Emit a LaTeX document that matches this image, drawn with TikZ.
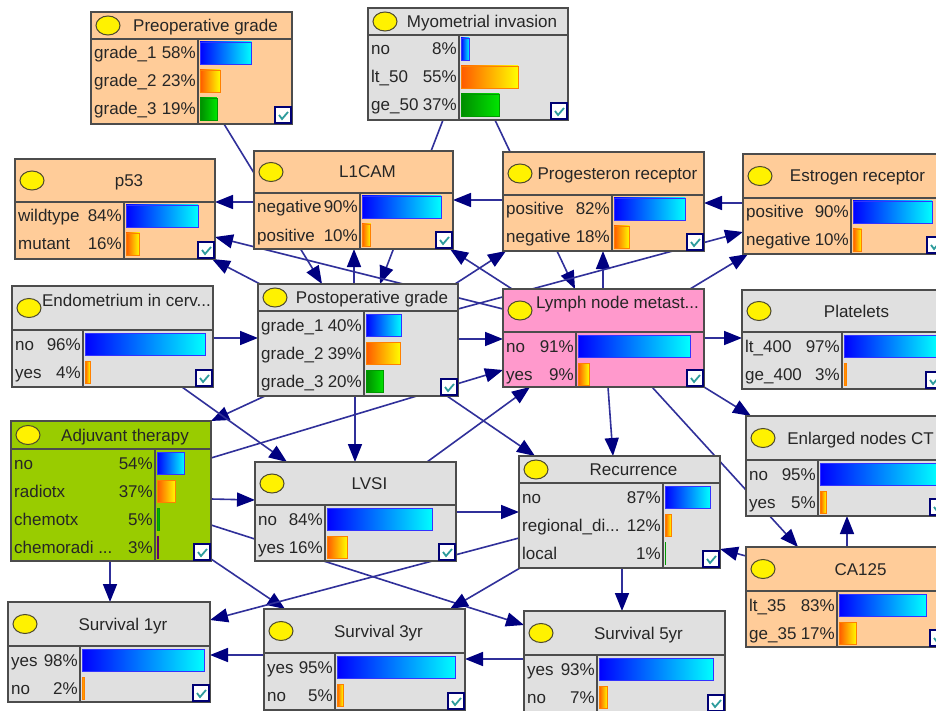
\documentclass[tikz,border=0pt]{standalone}
\usepackage{fontspec}
\setmainfont{Liberation Sans}
\usepackage{tikz}
\usepackage{xcolor}
\usetikzlibrary{calc,arrows.meta}
\pgfdeclarelayer{background}
\pgfsetlayers{background,main}

\definecolor{peach}{HTML}{FFCC99}
\definecolor{greybox}{HTML}{E0E0E0}
\definecolor{pinkbox}{HTML}{FF99CC}
\definecolor{adjgreen}{HTML}{99CC00}
\definecolor{arcline}{HTML}{30309A}
\definecolor{archead}{HTML}{000080}
\definecolor{tickc}{HTML}{2E9C9C}

% one network node: name, left, top, right, bottom, title line, column line, fill, title
\newcommand{\bnbox}[9]{%
  \def\bnN{#1}\def\bnL{#2}\def\bnR{#4}\def\bnT{#6}\def\bnC{#7}%
  \node[frame, fill=#8, minimum width={#4-#2}, minimum height={#5-#3}] (#1) at ({(#2+#4)/2},{(#3+#5)/2}) {};
  \draw[frame] (#2,#6) -- (#4,#6) (#7,#6) -- (#7,#5);
  \draw[bulb] (#2+17,{(#3+#6)/2}) ellipse (12 and 9.5);
  \node[anchor=base, inner sep=0] (#1-title) at ({(#2+#4+28)/2},{(#3+#6)/2+6}) {#9};
  \draw[tickbox] (#4-17,#5-17) rectangle (#4-1,#5-1);
  \draw[tick] (#4-13,#5-9) -- (#4-10,#5-5) -- (#4-4,#5-12);
}
% one state row of the last box: row, label, percent, bar style
\newcommand{\bnrow}[4]{%
  \node[anchor=base west, inner sep=0] (\bnN-#1) at (\bnL+3,{\bnT+20+28*(#1-1)}) {#2};
  \node[anchor=base east, inner sep=0] (\bnN-#1p) at (\bnC-2,{\bnT+20+28*(#1-1)}) {#3\%};
  \shadedraw[#4] (\bnC+2,{\bnT+3+28*(#1-1)}) rectangle ++({(\bnR-\bnC-5)*#3/100},22);
}

\begin{document}
\begin{tikzpicture}[x=1pt, y=-1pt]
	\tikzstyle{every node} = [font=\fontsize{17}{20}\selectfont, text=black!85]
	\tikzstyle{frame} = [draw=black!70, line width=1.3pt, inner sep=0, outer sep=0]
	\tikzstyle{bulb} = [fill=yellow, draw=black!60!olive, line width=1pt]
	\tikzstyle{tickbox} = [draw=blue!45!black, line width=1.1pt, fill=white]
	\tikzstyle{tick} = [draw=tickc, line width=1.8pt]
	\tikzstyle{bblue} = [left color=blue, right color=cyan, draw=blue!80!white, line width=0.8pt]
	\tikzstyle{borange} = [left color=orange!70!red, right color=yellow, draw=orange, line width=0.8pt]
	\tikzstyle{bgreen} = [left color=green!55!black, right color=green!90!black, draw=green!60!black, line width=0.8pt]
	\tikzstyle{bpurple} = [left color=violet!80!black, right color=violet, draw=violet!80!black, line width=0.8pt]
	\tikzstyle{arc} = [draw=arcline, line width=1.6pt, -{Triangle[length=18pt, width=14pt, color=archead]}]
	\useasboundingbox (0,0) rectangle (936,711);
	\clip (0,0) rectangle (936,711);

	\bnbox{preop}{91}{12}{292}{124}{39}{198}{peach}{Preoperative grade}
	\bnrow{1}{grade\_1}{58}{bblue}
	\bnrow{2}{grade\_2}{23}{borange}
	\bnrow{3}{grade\_3}{19}{bgreen}
	\bnbox{myo}{368}{8}{568}{120}{35}{459}{greybox}{Myometrial invasion}
	\bnrow{1}{no}{8}{bblue}
	\bnrow{2}{lt\_50}{55}{borange}
	\bnrow{3}{ge\_50}{37}{bgreen}
	\bnbox{p53}{15}{159}{215}{259}{202}{124}{peach}{p53}
	\bnrow{1}{wildtype}{84}{bblue}
	\bnrow{2}{mutant}{16}{borange}
	\bnbox{l1cam}{254}{151}{453}{249}{193}{360}{peach}{L1CAM}
	\bnrow{1}{negative}{90}{bblue}
	\bnrow{2}{positive}{10}{borange}
	\bnbox{prog}{503}{152}{704}{251}{195}{612}{peach}{Progesteron receptor}
	\bnrow{1}{positive}{82}{bblue}
	\bnrow{2}{negative}{18}{borange}
	\bnbox{estr}{743}{154}{944}{254}{198}{851}{peach}{Estrogen receptor}
	\bnrow{1}{positive}{90}{bblue}
	\bnrow{2}{negative}{10}{borange}
	\bnbox{endo}{12}{286}{213}{387}{330}{83}{greybox}{\raisebox{8pt}[0pt][0pt]{Endometrium in cerv...}}
	\bnrow{1}{no}{96}{bblue}
	\bnrow{2}{yes}{4}{borange}
	\bnbox{postop}{258}{284}{458}{396}{311}{364}{greybox}{Postoperative grade}
	\bnrow{1}{grade\_1}{40}{bblue}
	\bnrow{2}{grade\_2}{39}{borange}
	\bnrow{3}{grade\_3}{20}{bgreen}
	\bnbox{lymph}{503}{289}{704}{387}{332}{576}{pinkbox}{\raisebox{8pt}[0pt][0pt]{Lymph node metast...}}
	\bnrow{1}{no}{91}{bblue}
	\bnrow{2}{yes}{9}{borange}
	\bnbox{plat}{742}{290}{943}{389}{332}{842}{greybox}{Platelets}
	\bnrow{1}{lt\_400}{97}{bblue}
	\bnrow{2}{ge\_400}{3}{borange}
	\bnbox{adj}{11}{421}{211}{561}{449}{155}{adjgreen}{Adjuvant therapy}
	\bnrow{1}{no}{54}{bblue}
	\bnrow{2}{radiotx}{37}{borange}
	\bnrow{3}{chemotx}{5}{bgreen}
	\bnrow{4}{chemoradi ...}{3}{bpurple}
	\bnbox{lvsi}{255}{462}{456}{561}{505}{325}{greybox}{LVSI}
	\bnrow{1}{no}{84}{bblue}
	\bnrow{2}{yes}{16}{borange}
	\bnbox{recur}{519}{456}{720}{568}{483}{663}{greybox}{Recurrence}
	\bnrow{1}{no}{87}{bblue}
	\bnrow{2}{regional\_di...}{12}{borange}
	\bnrow{3}{local}{1}{bgreen}
	\bnbox{enl}{746}{416}{947}{516}{460}{818}{greybox}{Enlarged nodes CT}
	\bnrow{1}{no}{95}{bblue}
	\bnrow{2}{yes}{5}{borange}
	\bnbox{ca125}{746}{547}{947}{647}{591}{837}{peach}{CA125}
	\bnrow{1}{lt\_35}{83}{bblue}
	\bnrow{2}{ge\_35}{17}{borange}
	\bnbox{surv1}{8}{602}{210}{702}{646}{80}{greybox}{Survival 1yr}
	\bnrow{1}{yes}{98}{bblue}
	\bnrow{2}{no}{2}{borange}
	\bnbox{surv3}{264}{609}{465}{710}{653}{335}{greybox}{Survival 3yr}
	\bnrow{1}{yes}{95}{bblue}
	\bnrow{2}{no}{5}{borange}
	\bnbox{surv5}{524}{611}{725}{712}{655}{597}{greybox}{Survival 5yr}
	\bnrow{1}{yes}{93}{bblue}
	\bnrow{2}{no}{7}{borange}

	% arcs run behind the boxes
	\begin{pgfonlayer}{background}
	\fill[white] (0,0) rectangle (936,711);
	\draw[arc] ($(preop.south west)+(133,0)$) -- ($(postop.north west)+(64,0)$);
	\draw[arc] ($(myo.south west)+(75,0)$) -- ($(postop.north west)+(122,0)$);
	\draw[arc] ($(myo.south west)+(127,0)$) -- ($(lymph.north west)+(72,0)$);
	\draw[arc] ($(postop.north west)+(96,0)$) -- ($(l1cam.south west)+(100,0)$);
	\draw[arc] ($(postop.north west)+(2,0)$) -- ($(p53.south east)+(-3,0)$);
	\draw[arc] ($(lymph.north west)+(0,20)$) -- ($(p53.north east)+(0,78)$);
	\draw[arc] ($(l1cam.north west)+(0,51)$) -- ($(p53.north east)+(0,43)$);
	\draw[arc] ($(lymph.north west)+(9,0)$) -- ($(l1cam.south east)+(-3,0)$);
	\draw[arc] ($(prog.north west)+(0,48)$) -- ($(l1cam.north east)+(0,49)$);
	\draw[arc] ($(postop.north east)+(-3,0)$) -- ($(prog.south west)+(3,0)$);
	\draw[arc] ($(lymph.north west)+(100,0)$) -- ($(prog.south west)+(100,0)$);
	\draw[arc] ($(estr.north west)+(0,49)$) -- ($(prog.north east)+(0,51)$);
	\draw[arc] ($(postop.north east)+(0,25)$) -- ($(estr.north west)+(0,78)$);
	\draw[arc] ($(lymph.north east)+(-14,0)$) -- ($(estr.south west)+(5,0)$);
	\draw[arc] ($(endo.north east)+(0,52)$) -- ($(postop.north west)+(0,54)$);
	\draw[arc] ($(postop.north east)+(0,55)$) -- ($(lymph.north west)+(0,50)$);
	\draw[arc] ($(adj.north east)+(0,37)$) -- ($(lymph.north west)+(0,81)$);
	\draw[arc] ($(postop.south west)+(7,0)$) -- (adj.north east);
	\draw[arc] ($(endo.south west)+(170,0)$) -- ($(lvsi.north west)+(32,0)$);
	\draw[arc] ($(postop.south west)+(97,0)$) -- ($(lvsi.north west)+(100,0)$);
	\draw[arc] ($(lvsi.north west)+(172,0)$) -- ($(lymph.south west)+(27,0)$);
	\draw[arc] ($(postop.south east)+(-11,0)$) -- ($(recur.north west)+(16,0)$);
	\draw[arc] ($(lymph.north east)+(0,49)$) -- ($(plat.north west)+(0,48)$);
	\draw[arc] (lymph.south east) -- ($(enl.north west)+(5,0)$);
	\draw[arc] ($(lymph.south west)+(105,0)$) -- ($(recur.north west)+(94,0)$);
	\draw[arc] ($(lymph.south west)+(149,0)$) -- ($(ca125.north west)+(52,0)$);
	\draw[arc] ($(ca125.north west)+(101,0)$) -- ($(enl.south west)+(101,0)$);
	\draw[arc] ($(ca125.north west)+(0,9)$) -- ($(recur.north east)+(0,93)$);
	\draw[arc] ($(lvsi.north east)+(0,50)$) -- ($(recur.north west)+(0,56)$);
	\draw[arc] ($(adj.north east)+(0,78)$) -- ($(lvsi.north west)+(0,38)$);
	\draw[arc] ($(adj.north east)+(0,104)$) -- ($(surv5.north west)+(0,14)$);
	\draw[arc] ($(adj.south east)+(0,-2)$) -- ($(surv3.north west)+(21,0)$);
	\draw[arc] ($(adj.south west)+(99,0)$) -- ($(surv1.north west)+(102,0)$);
	\draw[arc] ($(recur.north west)+(0,82)$) -- ($(surv1.north east)+(0,18)$);
	\draw[arc] ($(surv3.north west)+(0,46)$) -- ($(surv1.north east)+(0,53)$);
	\draw[arc] ($(surv5.north west)+(0,48)$) -- ($(surv3.north east)+(0,50)$);
	\draw[arc] ($(recur.south west)+(103,0)$) -- ($(surv5.north west)+(98,0)$);
	\draw[arc] ($(recur.south west)+(1,0)$) -- ($(surv3.north east)+(-15,0)$);
	\end{pgfonlayer}
\end{tikzpicture}
\end{document}
